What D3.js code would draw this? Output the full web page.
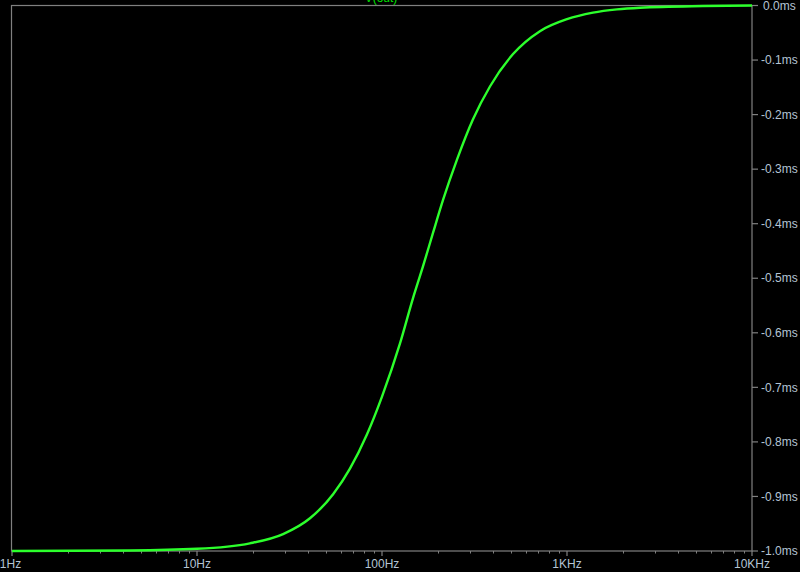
<!DOCTYPE html>
<html>
<head>
<meta charset="utf-8">
<script src="https://cdn.jsdelivr.net/npm/d3@7"></script>
<style>
  html, body { margin: 0; padding: 0; background: #000; }
  svg { display: block; }
</style>
</head>
<body>
<svg id="chart" width="800" height="572"></svg>
<script>
// ---- Data ----
const title = "V(out)";
const freqHz = [1, 4.34, 10, 19.3, 29.2, 40.8, 54.4, 67.1, 83, 100, 125, 147, 167, 189, 214, 254, 310, 384, 511, 714, 1000, 1382, 1862, 2481, 5433, 10000];
const delayMs = [-1.0, -0.999, -0.996, -0.986, -0.969, -0.940, -0.896, -0.849, -0.786, -0.717, -0.620, -0.537, -0.477, -0.416, -0.356, -0.283, -0.209, -0.148, -0.089, -0.047, -0.025, -0.013, -0.007, -0.004, -0.001, 0.0];
const xTickValues = [1, 10, 100, 1000, 10000];
const xTickLabels = ["1Hz", "10Hz", "100Hz", "1KHz", "10KHz"];
const yTickValues = [0, -0.1, -0.2, -0.3, -0.4, -0.5, -0.6, -0.7, -0.8, -0.9, -1.0];
const yTickLabels = ["0.0ms", "-0.1ms", "-0.2ms", "-0.3ms", "-0.4ms", "-0.5ms", "-0.6ms", "-0.7ms", "-0.8ms", "-0.9ms", "-1.0ms"];

// ---- Layout ----
const svg = d3.select("#chart");
const L = 12, R = 752, T = 5.5, B = 551;
const frameColor = "#808080";
const labelColor = "#b4c4d4";
const font = "Liberation Sans, Arial, sans-serif";

const x = d3.scaleLog().domain([1, 10000]).range([L, R]);
const y = d3.scaleLinear().domain([-1.0, 0]).range([B, T]);

svg.append("rect").attr("width", 800).attr("height", 572).attr("fill", "#000");

// frame
svg.append("rect")
  .attr("x", L - 0.5).attr("y", T).attr("width", R - L + 0.5).attr("height", B - T)
  .attr("fill", "none").attr("stroke", frameColor).attr("stroke-width", 1.2);

// bottom axis
const minorTicks = [];
for (let d = 1; d < 10000; d *= 10) for (let m = 2; m <= 9; m++) minorTicks.push(d * m);
const gx = svg.append("g").attr("transform", `translate(0,${B})`);
gx.selectAll("line.minor").data(minorTicks).enter().append("line")
  .attr("x1", d => Math.round(x(d)) + 0.5).attr("x2", d => Math.round(x(d)) + 0.5)
  .attr("y1", 0).attr("y2", 2.5).attr("stroke", frameColor).attr("stroke-width", 1);
gx.selectAll("line.major").data(xTickValues).enter().append("line")
  .attr("x1", d => x(d)).attr("x2", d => x(d))
  .attr("y1", 0).attr("y2", 5).attr("stroke", frameColor).attr("stroke-width", 1.2);
gx.selectAll("text").data(xTickValues).enter().append("text")
  .attr("x", d => x(d) - (d === 1 ? 1.5 : 0)).attr("y", 17)
  .attr("text-anchor", "middle")
  .attr("fill", labelColor).attr("font-family", font).attr("font-size", 12)
  .text((d, i) => xTickLabels[i]);

// right axis
const gy = svg.append("g").attr("transform", `translate(${R},0)`);
gy.selectAll("line").data(yTickValues).enter().append("line")
  .attr("x1", 0).attr("x2", 6).attr("y1", d => y(d)).attr("y2", d => y(d))
  .attr("stroke", frameColor).attr("stroke-width", 1.2);
gy.selectAll("text").data(yTickValues).enter().append("text")
  .attr("x", (d, i) => i === 0 ? 11 : 9).attr("y", d => y(d)).attr("dy", "0.35em")
  .attr("text-anchor", "start")
  .attr("fill", labelColor).attr("font-family", font).attr("font-size", 12)
  .text((d, i) => yTickLabels[i]);

// title (cut off at top, as in the reference)
svg.append("text")
  .attr("x", 381).attr("y", 2).attr("text-anchor", "middle")
  .attr("fill", "#00e000").attr("font-family", font).attr("font-size", 12)
  .text(title);

// curve
const pts = freqHz.map((f, i) => [f, delayMs[i]]);
const line = d3.line().x(d => x(d[0])).y(d => y(d[1])).curve(d3.curveMonotoneX);
svg.append("path").datum(pts)
  .attr("d", line).attr("fill", "none")
  .attr("stroke", "#2cff2c").attr("stroke-width", 2.4);
</script>
</body>
</html>
